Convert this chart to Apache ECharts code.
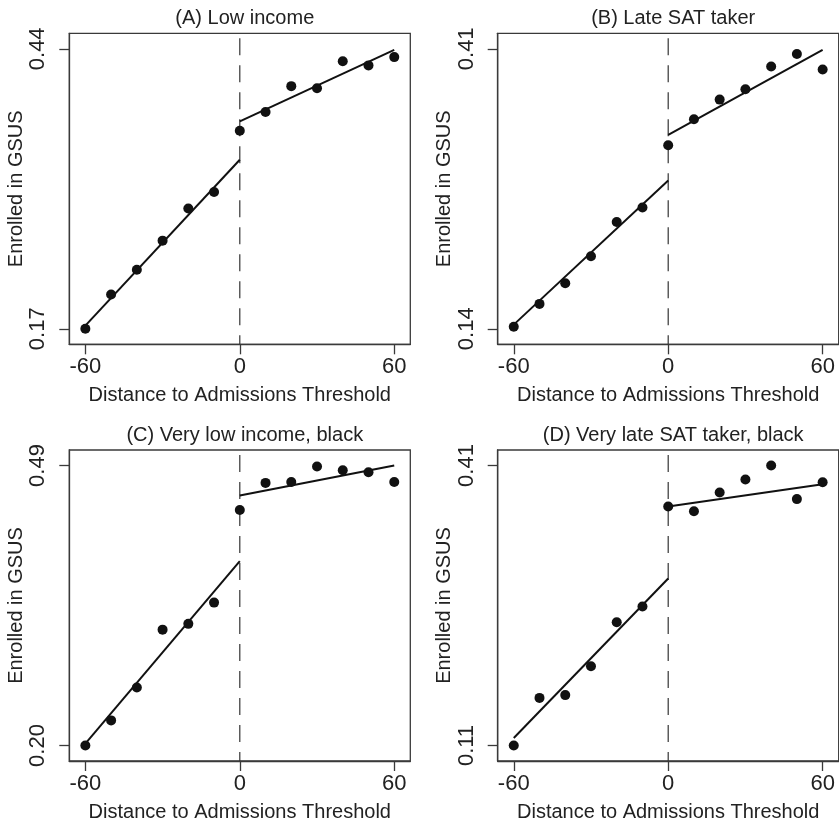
<!DOCTYPE html>
<html>
<head>
<meta charset="utf-8">
<script src="https://cdn.jsdelivr.net/npm/echarts@6/dist/echarts.min.js"></script>
<style>
html,body{margin:0;padding:0;background:#fff;}
#chart{width:839px;height:824px;}
</style>
</head>
<body>
<div id="chart"></div>
<script>
// ---- data ----
const panelTitles = ['(A) Low income', '(B) Late SAT taker', '(C) Very low income, black', '(D) Very late SAT taker, black'];
const xBins = [-60, -50, -40, -30, -20, -10, 0, 10, 20, 30, 40, 50, 60];
const xTicks = [-60, 0, 60];

const lowIncome = [0.170, 0.203, 0.227, 0.255, 0.286, 0.302, 0.361, 0.379, 0.404, 0.402, 0.428, 0.424, 0.432];
const lowIncomeFitLeft = [0.173, 0.333];
const lowIncomeFitRight = [0.370, 0.439];
const lowIncomeTicks = [0.17, 0.44];

const lateSAT = [0.142, 0.164, 0.184, 0.210, 0.243, 0.257, 0.317, 0.342, 0.361, 0.371, 0.393, 0.405, 0.390];
const lateSATFitLeft = [0.144, 0.283];
const lateSATFitRight = [0.327, 0.409];
const lateSATTicks = [0.14, 0.41];

const veryLowIncomeBlack = [0.200, 0.226, 0.260, 0.320, 0.326, 0.348, 0.444, 0.472, 0.473, 0.489, 0.485, 0.483, 0.473];
const veryLowIncomeBlackFitLeft = [0.202, 0.391];
const veryLowIncomeBlackFitRight = [0.459, 0.490];
const veryLowIncomeBlackTicks = [0.20, 0.49];

const veryLateSATBlack = [0.110, 0.161, 0.164, 0.195, 0.242, 0.259, 0.366, 0.361, 0.381, 0.395, 0.410, 0.374, 0.392];
const veryLateSATBlackFitLeft = [0.118, 0.289];
const veryLateSATBlackFitRight = [0.366, 0.390];
const veryLateSATBlackTicks = [0.11, 0.41];

const fitXLeft = [-60, 0];
const fitXRight = [0, 60];

const yTitle = 'Enrolled in GSUS';
const xTitle = 'Distance to Admissions Threshold';

// ---- layout ----
const panels = [
  {vals: lowIncome, fl: lowIncomeFitLeft, fr: lowIncomeFitRight, ticks: lowIncomeTicks},
  {vals: lateSAT, fl: lateSATFitLeft, fr: lateSATFitRight, ticks: lateSATTicks},
  {vals: veryLowIncomeBlack, fl: veryLowIncomeBlackFitLeft, fr: veryLowIncomeBlackFitRight, ticks: veryLowIncomeBlackTicks},
  {vals: veryLateSATBlack, fl: veryLateSATBlackFitLeft, fr: veryLateSATBlackFitRight, ticks: veryLateSATBlackTicks}
];
const gridPos = [
  {left: 69.3, top: 33.3},
  {left: 497.7, top: 33.3},
  {left: 69.3, top: 450},
  {left: 497.7, top: 450}
];
const GW = 341, GH = 311;
const FONT = '"Liberation Sans", Arial, sans-serif';
const TXT = '#222';
const INK = '#111';
const AX = '#3a3a3a';

const grid = [], xAxis = [], yAxis = [], series = [], title = [];
panels.forEach((p, i) => {
  const g = gridPos[i];
  grid.push({left: g.left, top: g.top, width: GW, height: GH, show: true, borderColor: AX, borderWidth: 1.3, backgroundColor: 'transparent'});
  const xr = xTicks[2] - xTicks[0];
  const xmin = xTicks[0] - 0.052 * xr, xmax = xTicks[2] + 0.052 * xr;
  const yr = p.ticks[1] - p.ticks[0];
  const ymin = p.ticks[0] - 0.0554 * yr, ymax = p.ticks[1] + 0.0554 * yr;
  xAxis.push({
    type: 'value', gridIndex: i, min: xmin, max: xmax, position: 'bottom',
    axisLine: {show: true, onZero: false, lineStyle: {color: AX, width: 1.3}},
    axisTick: {show: true, length: 10, customValues: xTicks, lineStyle: {color: AX, width: 1.3}},
    axisLabel: {customValues: xTicks, fontSize: 22, color: TXT, fontFamily: FONT, margin: 12},
    splitLine: {show: false},
    name: xTitle, nameLocation: 'middle', nameGap: 41,
    nameTextStyle: {fontSize: 20, color: TXT, fontFamily: FONT}
  });
  yAxis.push({
    type: 'value', gridIndex: i, min: ymin, max: ymax, position: 'left',
    axisLine: {show: true, onZero: false, lineStyle: {color: AX, width: 1.3}},
    axisTick: {show: true, length: 10, customValues: p.ticks, lineStyle: {color: AX, width: 1.3}},
    axisLabel: {customValues: p.ticks, rotate: 90, fontSize: 22, color: TXT, fontFamily: FONT, margin: 20,
      formatter: v => v.toFixed(2)},
    splitLine: {show: false},
    name: yTitle, nameLocation: 'middle', nameGap: 42, nameRotate: 90,
    nameTextStyle: {fontSize: 20, color: TXT, fontFamily: FONT}
  });
  title.push({
    text: panelTitles[i], left: g.left + GW / 2, top: g.top - 30, textAlign: 'center',
    textStyle: {fontSize: 20, fontWeight: 'normal', color: TXT, fontFamily: FONT}
  });
  // dashed threshold line
  series.push({
    type: 'line', xAxisIndex: i, yAxisIndex: i, data: [[0, ymax], [0, ymin]],
    symbol: 'none', silent: true,
    lineStyle: {color: '#333', width: 1.2, type: [17, 10], dashOffset: -5}
  });
  series.push({
    type: 'line', xAxisIndex: i, yAxisIndex: i,
    data: fitXLeft.map((x, k) => [x, p.fl[k]]),
    symbol: 'none', lineStyle: {color: INK, width: 2}
  });
  series.push({
    type: 'line', xAxisIndex: i, yAxisIndex: i,
    data: fitXRight.map((x, k) => [x, p.fr[k]]),
    symbol: 'none', lineStyle: {color: INK, width: 2}
  });
  series.push({
    type: 'scatter', xAxisIndex: i, yAxisIndex: i,
    data: xBins.map((x, k) => [x, p.vals[k]]),
    symbol: 'circle', symbolSize: 10, itemStyle: {color: INK, opacity: 1}, z: 5
  });
});

const chart = echarts.init(document.getElementById('chart'), null, {renderer: 'canvas'});
chart.setOption({
  animation: false,
  backgroundColor: '#fff',
  title, grid, xAxis, yAxis, series
});
</script>
</body>
</html>
